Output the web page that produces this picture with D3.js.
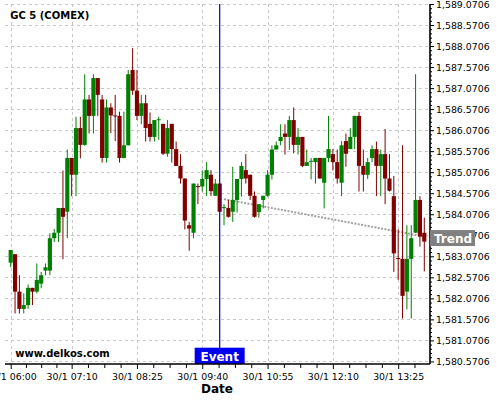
<!DOCTYPE html>
<html><head><meta charset="utf-8">
<script src="https://cdn.jsdelivr.net/npm/d3@7/dist/d3.min.js"></script>
<style>body{margin:0;background:#fff}svg{display:block}</style>
</head><body>
<script>
// ---------- data ----------
const chartTitle = "GC 5 (COMEX)";
const watermark = "www.delkos.com";
const xTitle = "Date";
const firstCandle = "30/1 06:00";
const candleMinutes = 5;
const opens  = [1582.92,1583.12,1582.23,1581.82,1581.91,1582.32,1582.23,1582.42,1582.73,1582.73,1583.50,1583.63,1584.22,1584.13,1585.41,1585.01,1586.12,1585.72,1586.80,1586.41,1587.31,1586.80,1585.41,1586.61,1586.42,1586.41,1585.41,1585.71,1587.50,1587.01,1586.41,1586.71,1586.22,1585.91,1586.31,1586.22,1585.51,1586.22,1585.62,1585.22,1584.92,1583.81,1583.63,1584.74,1584.73,1584.91,1585.01,1584.51,1584.80,1584.23,1584.22,1584.13,1584.41,1584.91,1585.12,1585.01,1584.51,1584.12,1584.41,1584.51,1585.01,1585.61,1585.81,1585.99,1585.91,1586.31,1585.72,1585.91,1585.22,1585.32,1585.31,1585.41,1584.82,1585.41,1585.50,1585.31,1584.82,1585.81,1585.62,1585.91,1586.41,1585.22,1585.01,1585.41,1585.62,1585.22,1585.50,1584.92,1584.50,1583.03,1583.01,1582.23,1583.01,1583.63,1584.41,1583.63];
const highs  = [1583.22,1583.12,1582.62,1582.19,1582.40,1582.32,1582.90,1582.70,1582.90,1583.62,1583.72,1584.22,1585.11,1585.61,1585.41,1586.39,1586.39,1587.40,1586.91,1587.40,1587.31,1586.91,1586.80,1586.71,1586.91,1586.51,1586.51,1587.50,1588.02,1587.50,1586.91,1586.91,1586.49,1586.31,1586.39,1586.22,1586.31,1586.22,1585.80,1585.50,1584.92,1583.89,1584.80,1584.80,1585.12,1585.31,1585.12,1584.91,1584.80,1584.31,1584.41,1585.20,1584.91,1585.31,1585.50,1585.01,1584.61,1584.31,1584.51,1585.12,1585.71,1585.80,1586.21,1586.21,1586.41,1586.61,1586.12,1585.91,1585.61,1585.41,1585.41,1585.41,1585.41,1586.41,1585.62,1585.61,1585.81,1585.99,1586.12,1586.41,1586.50,1585.61,1585.41,1585.71,1585.80,1585.61,1586.10,1585.50,1584.98,1583.71,1585.71,1583.81,1583.81,1587.40,1584.50,1583.99];
const lows   = [1582.81,1581.71,1581.71,1581.71,1581.82,1581.91,1582.19,1582.31,1582.62,1582.62,1583.41,1583.41,1583.00,1583.50,1584.50,1584.50,1585.40,1585.70,1585.99,1585.99,1586.41,1585.30,1585.30,1586.00,1585.81,1585.30,1585.40,1585.71,1586.91,1586.31,1586.21,1585.80,1585.80,1585.80,1585.84,1585.48,1585.44,1585.30,1585.22,1584.80,1583.71,1583.20,1583.50,1584.31,1584.61,1584.50,1584.50,1584.51,1584.13,1583.81,1583.99,1583.89,1584.11,1584.49,1584.80,1584.41,1583.99,1583.99,1584.21,1584.49,1584.90,1585.61,1585.71,1585.49,1585.60,1585.52,1585.49,1585.19,1585.22,1584.90,1584.80,1584.92,1584.21,1585.31,1585.11,1584.80,1584.50,1585.20,1585.62,1585.62,1584.61,1584.61,1584.91,1585.31,1584.50,1584.50,1584.31,1584.61,1582.70,1582.51,1581.59,1581.81,1581.59,1583.63,1583.30,1582.71];
const closes = [1583.22,1582.23,1581.82,1581.91,1582.32,1582.23,1582.51,1582.62,1582.81,1583.50,1583.63,1584.22,1584.01,1585.41,1585.01,1586.12,1585.72,1586.80,1586.41,1587.31,1586.91,1585.41,1586.61,1586.42,1586.40,1585.41,1585.71,1587.40,1587.01,1586.41,1586.71,1586.12,1585.91,1586.31,1586.33,1585.51,1586.12,1585.62,1585.22,1584.92,1583.92,1583.73,1584.80,1584.72,1584.91,1585.12,1584.62,1584.80,1584.13,1584.24,1584.01,1584.41,1584.91,1585.22,1584.92,1584.51,1584.01,1584.31,1584.51,1585.01,1585.61,1585.71,1585.91,1585.91,1586.31,1585.72,1585.91,1585.22,1585.31,1585.34,1585.41,1584.92,1585.41,1585.62,1585.31,1584.92,1585.71,1585.51,1585.91,1586.41,1585.22,1585.01,1585.31,1585.62,1585.22,1585.50,1584.92,1584.63,1583.14,1583.02,1582.13,1583.01,1583.50,1584.41,1583.54,1583.42];
const xTickLabels = ["30/1 06:00","30/1 07:10","30/1 08:25","30/1 09:40","30/1 10:55","30/1 12:10","30/1 13:25"];
const yTickValues = [1580.5706,1581.0706,1581.5706,1582.0706,1582.5706,1583.0706,1583.5706,1584.0706,1584.5706,1585.0706,1585.5706,1586.0706,1586.5706,1587.0706,1587.5706,1588.0706,1588.5706,1589.0706];
const eventLabel = "Event";
const eventTime = "30/1 10:00";
const trendLabel = "Trend";
const trendTimes = ["30/1 10:05","30/1 13:55"];
const trendValues = [1584.43, 1583.54];

// ---------- chart ----------
const W = 500, H = 400;
const parse = d3.timeParse("%d/%m %H:%M");
const t0 = parse(firstCandle);
const candles = opens.map((o,i)=>({t:d3.timeMinute.offset(t0,i*candleMinutes),o,h:highs[i],l:lows[i],c:closes[i]}));
const xTickDates = xTickLabels.map(parse);

const plotL = 5, plotR = 430, plotT = 4, plotB = 364;
const x = d3.scaleTime().domain([t0, candles[candles.length-1].t]).range([10.7, 424.3]);
const y = d3.scaleLinear().domain([1580.509, 1589.0706]).range([plotB, plotT]);
const step = x(candles[1].t) - x(candles[0].t);

const svg = d3.select("body").append("svg").attr("width",W).attr("height",H)
  .style("font-family","'DejaVu Sans', Verdana, sans-serif");

// grid
const grid = svg.append("g").attr("stroke","#c8c8c8").attr("stroke-dasharray","3,3").attr("stroke-width",1);
grid.selectAll("line.h").data(yTickValues).join("line")
  .attr("x1",plotL).attr("x2",plotR).attr("y1",d=>Math.round(y(d))+0.5).attr("y2",d=>Math.round(y(d))+0.5);
grid.selectAll("line.v").data(xTickDates).join("line")
  .attr("y1",plotT).attr("y2",plotB).attr("x1",d=>Math.round(x(d))+0.5).attr("x2",d=>Math.round(x(d))+0.5);

// trend
const trendPts = trendTimes.map((t,i)=>[x(parse(t)), y(trendValues[i])]);
svg.append("path").attr("d", d3.line()(trendPts)).attr("fill","none")
  .attr("stroke","#a0a0a0").attr("stroke-width",2).attr("stroke-dasharray","2,1.4");

// candles
const up = "#008000", dn = "#800000";
const cg = svg.append("g");
cg.selectAll("line").data(candles).join("line")
  .attr("x1",d=>x(d.t)).attr("x2",d=>x(d.t))
  .attr("y1",d=>y(d.h)).attr("y2",d=>y(d.l))
  .attr("stroke",d=>d.c>=d.o?up:dn).attr("stroke-width",1);
cg.selectAll("rect").data(candles).join("rect")
  .attr("x",d=>x(d.t)-step/2+0.1).attr("width",step-0.2)
  .attr("y",d=>y(Math.max(d.o,d.c)))
  .attr("height",d=>Math.max(1, Math.abs(y(d.o)-y(d.c))))
  .attr("fill",d=>d.c>=d.o?up:dn);

// event
const ex = x(parse(eventTime));
svg.append("line").attr("x1",ex).attr("x2",ex).attr("y1",plotT).attr("y2",plotB)
  .attr("stroke","#0000c8").attr("stroke-width",1.2);
svg.append("rect").attr("x",ex-25).attr("y",plotB-16.3).attr("width",50).attr("height",16.3).attr("fill","#0000f0");
svg.append("text").attr("x",ex).attr("y",plotB-3.3).attr("text-anchor","middle")
  .attr("fill","#fff").attr("font-weight","bold").attr("font-size",12).text(eventLabel);

// axes
const yAxis = svg.append("g").attr("transform",`translate(${plotR},0)`)
  .call(d3.axisRight(y).tickValues(yTickValues).tickFormat(d3.format(",.4f")).tickSize(4).tickPadding(2));
const yMinor = [];
for (let k=0;k<yTickValues.length-1;k++){ for(let j=1;j<5;j++) yMinor.push(yTickValues[k]+(yTickValues[k+1]-yTickValues[k])*j/5); }
svg.append("g").attr("transform",`translate(${plotR},0)`)
  .call(d3.axisRight(y).tickValues(yMinor).tickFormat("").tickSize(2)).select(".domain").remove();
yAxis.select(".domain").attr("d",`M0,${plotT}V${plotB}`).attr("stroke-width",1.6);
yAxis.selectAll("text").attr("font-size",9.4).attr("font-family","'DejaVu Sans', sans-serif").attr("fill","#000");

const xAxis = svg.append("g").attr("transform",`translate(0,${plotB})`)
  .call(d3.axisBottom(x).tickValues(xTickDates).tickFormat((d,i)=>xTickLabels[i]).tickSize(5).tickPadding(4));
xAxis.select(".domain").attr("d",`M${plotL},0H${plotR}`).attr("stroke-width",1.6);
xAxis.selectAll("text").attr("font-size",9.4).attr("font-family","'DejaVu Sans', sans-serif").attr("fill","#000");
const xMinor = [];
for (let k=0;k<xTickDates.length-1;k++){ const a=+xTickDates[k], b=+xTickDates[k+1]; for(let j=1;j<4;j++) xMinor.push(new Date(a+(b-a)*j/4)); }
{ const a=+xTickDates[xTickDates.length-2], b=+xTickDates[xTickDates.length-1]; let v=b+(b-a)/4; while(x(new Date(v))<=plotR+0.5){ xMinor.push(new Date(v)); v+=(b-a)/4; } }
svg.append("g").attr("transform",`translate(0,${plotB})`)
  .call(d3.axisBottom(x).tickValues(xMinor).tickFormat("").tickSize(4)).select(".domain").remove();

// trend label
const te = trendPts[trendPts.length-1];
svg.append("rect").attr("x",plotR).attr("y",te[1]-6.5).attr("width",45).attr("height",16).attr("fill","#808080");
svg.append("text").attr("x",plotR+4).attr("y",te[1]+6).attr("fill","#fff").attr("font-weight","bold").attr("font-size",12).text(trendLabel);

// titles
svg.append("text").attr("x",10.3).attr("y",19).attr("font-weight","bold").attr("font-size",10).text(chartTitle);
svg.append("text").attr("x",15.3).attr("y",357).attr("font-weight","bold").attr("font-size",10).text(watermark);
svg.append("text").attr("x",217).attr("y",393.3).attr("text-anchor","middle").attr("font-weight","bold").attr("font-size",12).text(xTitle);
</script>
</body></html>
